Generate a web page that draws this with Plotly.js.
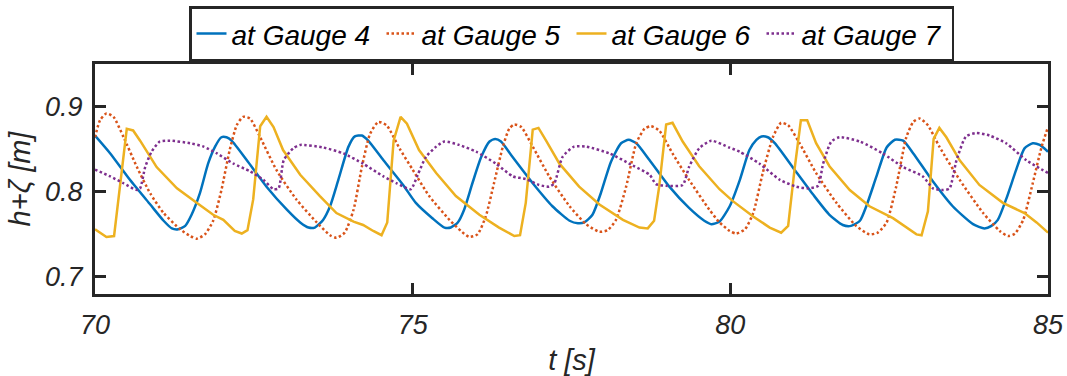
<!DOCTYPE html>
<html>
<head>
<meta charset="utf-8">
<script src="https://cdn.plot.ly/plotly-3.0.1.min.js"></script>
<style>html,body{margin:0;padding:0;background:#fff;}#chart{width:1067px;height:376px;}</style>
</head>
<body>
<div id="chart"></div>
<script>
const seriesNames = ["at Gauge 4", "at Gauge 5", "at Gauge 6", "at Gauge 7"];

const tGauge4 = [70.00,70.24,70.55,70.87,71.08,71.21,71.31,71.42,71.52,71.65,71.78,71.89,71.99,72.07,72.15,72.39,72.70,73.02,73.23,73.36,73.46,73.59,73.70,73.83,73.99,74.09,74.20,74.30,74.54,74.85,75.05,75.31,75.50,75.60,75.71,75.81,75.94,76.08,76.21,76.30,76.39,76.57,76.89,77.20,77.47,77.60,77.70,77.83,77.96,78.12,78.28,78.40,78.52,78.73,79.04,79.35,79.59,79.70,79.83,79.99,80.15,80.30,80.41,80.49,80.59,80.70,80.99,81.30,81.56,81.77,81.90,82.04,82.14,82.30,82.46,82.59,82.72,82.88,83.19,83.50,83.82,84.00,84.11,84.21,84.34,84.50,84.63,84.76,84.87,85.00];
const hGauge4 = [0.866,0.845,0.814,0.785,0.766,0.757,0.756,0.760,0.773,0.798,0.833,0.853,0.864,0.864,0.860,0.837,0.806,0.779,0.764,0.758,0.758,0.767,0.783,0.814,0.853,0.865,0.866,0.860,0.837,0.808,0.787,0.769,0.758,0.758,0.764,0.779,0.810,0.841,0.859,0.862,0.859,0.841,0.810,0.783,0.766,0.763,0.764,0.773,0.798,0.835,0.857,0.861,0.857,0.837,0.806,0.781,0.766,0.762,0.765,0.783,0.814,0.849,0.861,0.865,0.864,0.857,0.828,0.797,0.773,0.761,0.760,0.766,0.783,0.818,0.852,0.861,0.860,0.845,0.812,0.783,0.762,0.757,0.760,0.767,0.791,0.826,0.851,0.857,0.855,0.847];

const tGauge5 = [70.00,70.08,70.18,70.29,70.45,70.66,70.87,71.08,71.34,71.50,71.60,71.73,71.86,71.99,72.12,72.23,72.33,72.44,72.60,72.86,73.17,73.49,73.70,73.80,73.93,74.07,74.20,74.33,74.46,74.59,74.80,75.00,75.26,75.58,75.76,75.89,76.02,76.15,76.28,76.42,76.52,76.60,76.71,76.89,77.15,77.47,77.73,77.94,78.07,78.20,78.36,78.52,78.65,78.75,78.88,79.09,79.35,79.67,79.83,79.99,80.09,80.23,80.36,80.51,80.67,80.80,80.91,81.09,81.35,81.67,81.98,82.19,82.32,82.46,82.61,82.77,82.88,82.98,83.11,83.29,83.61,83.98,84.24,84.37,84.48,84.61,84.76,84.90,85.00];
const hGauge5 = [0.864,0.884,0.892,0.888,0.864,0.829,0.798,0.775,0.756,0.748,0.745,0.750,0.766,0.802,0.849,0.878,0.888,0.886,0.864,0.825,0.791,0.764,0.749,0.746,0.752,0.779,0.829,0.868,0.882,0.878,0.850,0.826,0.795,0.767,0.754,0.747,0.750,0.771,0.810,0.853,0.874,0.879,0.876,0.853,0.818,0.783,0.762,0.753,0.755,0.767,0.806,0.857,0.874,0.877,0.872,0.845,0.814,0.779,0.764,0.754,0.751,0.756,0.775,0.822,0.864,0.881,0.878,0.857,0.822,0.787,0.760,0.750,0.752,0.764,0.806,0.864,0.882,0.886,0.878,0.853,0.814,0.775,0.754,0.748,0.751,0.767,0.810,0.853,0.876];

const tGauge6 = [70.00,70.18,70.30,70.39,70.50,70.60,70.71,70.97,71.29,71.60,71.86,72.02,72.20,72.31,72.40,72.49,72.60,72.70,72.81,72.96,73.23,73.54,73.80,74.07,74.22,74.38,74.51,74.60,74.70,74.81,74.91,75.10,75.37,75.68,76.05,76.36,76.60,76.69,76.78,76.89,76.98,77.10,77.31,77.62,77.94,78.31,78.57,78.70,78.80,78.88,78.99,79.09,79.25,79.51,79.83,80.04,80.36,80.62,80.80,80.91,81.01,81.11,81.21,81.35,81.56,81.88,82.19,82.56,82.82,82.93,83.01,83.11,83.20,83.29,83.40,83.61,83.92,84.29,84.63,84.82,85.00];
const hGauge6 = [0.756,0.747,0.748,0.806,0.874,0.872,0.860,0.829,0.804,0.787,0.773,0.767,0.754,0.751,0.755,0.791,0.877,0.888,0.876,0.849,0.820,0.795,0.775,0.765,0.761,0.754,0.749,0.764,0.860,0.888,0.880,0.849,0.822,0.795,0.773,0.758,0.748,0.749,0.787,0.873,0.875,0.860,0.833,0.806,0.785,0.767,0.758,0.757,0.766,0.806,0.879,0.881,0.859,0.830,0.803,0.789,0.771,0.758,0.752,0.760,0.826,0.884,0.884,0.857,0.830,0.802,0.783,0.769,0.756,0.750,0.749,0.777,0.862,0.875,0.864,0.837,0.808,0.787,0.775,0.764,0.752];

const tGauge7 = [70.00,70.24,70.45,70.66,70.71,70.79,70.89,71.02,71.18,71.50,71.71,71.92,72.18,72.44,72.65,72.81,72.89,72.97,73.12,73.23,73.59,73.91,74.22,74.54,74.75,74.97,75.08,75.21,75.37,75.50,75.73,76.00,76.31,76.58,76.78,76.99,77.15,77.23,77.36,77.54,77.73,78.10,78.46,78.73,78.83,78.99,79.25,79.35,79.51,79.70,79.98,80.15,80.46,80.78,81.04,81.22,81.38,81.46,81.59,81.72,82.04,82.40,82.72,83.03,83.19,83.35,83.45,83.56,83.71,83.87,84.08,84.34,84.66,85.00];
const hGauge7 = [0.826,0.818,0.810,0.802,0.804,0.829,0.847,0.859,0.860,0.857,0.853,0.845,0.833,0.824,0.814,0.803,0.804,0.837,0.851,0.855,0.852,0.845,0.833,0.818,0.810,0.803,0.820,0.841,0.853,0.859,0.855,0.847,0.833,0.818,0.815,0.808,0.806,0.810,0.841,0.853,0.853,0.845,0.831,0.820,0.809,0.807,0.808,0.829,0.851,0.860,0.852,0.847,0.833,0.814,0.806,0.804,0.807,0.833,0.859,0.864,0.859,0.845,0.829,0.818,0.804,0.802,0.804,0.837,0.865,0.869,0.866,0.857,0.837,0.822];

const xTickVals = [70, 75, 80, 85];
const yTickVals = [0.7, 0.8, 0.9];

const axisColor = '#262626';
const fontFam = 'Liberation Sans, Arial, Helvetica, sans-serif';

const traces = [
  {x: tGauge4, y: hGauge4, name: seriesNames[0], mode: 'lines',
   line: {color: '#0072BD', width: 2.5, shape: 'spline', smoothing: 0.6}},
  {x: tGauge5, y: hGauge5, name: seriesNames[1], mode: 'lines',
   line: {color: '#D95319', width: 2.5, dash: '2.5px,2.5px', shape: 'spline', smoothing: 0.6}},
  {x: tGauge6, y: hGauge6, name: seriesNames[2], mode: 'lines',
   line: {color: '#EDB120', width: 2.5}},
  {x: tGauge7, y: hGauge7, name: seriesNames[3], mode: 'lines',
   line: {color: '#7E2F8E', width: 2.5, dash: '2.5px,2.5px', shape: 'spline', smoothing: 0.6}}
];

const layout = {
  width: 1067, height: 376,
  margin: {l: 95, r: 19, t: 64, b: 82, pad: 0},
  paper_bgcolor: '#ffffff', plot_bgcolor: '#ffffff',
  showlegend: true,
  legend: {
    orientation: 'h', x: 0.5, xanchor: 'center',
    yref: 'container', y: 0.983, yanchor: 'top',
    bordercolor: axisColor, borderwidth: 2.5, bgcolor: '#ffffff',
    font: {family: fontFam, size: 28, color: '#000000', style: 'italic'},
    tracegroupgap: 0, itemwidth: 30,
    entrywidth: 145, entrywidthmode: 'pixels'
  },
  xaxis: {
    range: [70, 85], tickvals: xTickVals, ticktext: xTickVals.map(String),
    showgrid: false, zeroline: false,
    showline: true, mirror: 'ticks', linecolor: axisColor, linewidth: 3,
    ticks: 'inside', ticklen: 11, tickwidth: 3, tickcolor: axisColor,
    ticklabelstandoff: 5,
    tickfont: {family: fontFam, size: 27, color: axisColor, style: 'italic'},
    title: {text: 't [s]', standoff: 16, font: {family: fontFam, size: 29, color: axisColor, style: 'italic'}}
  },
  yaxis: {
    range: [0.68, 0.95], tickvals: yTickVals, ticktext: ['0.7', '0.8', '0.9'],
    showgrid: false, zeroline: false,
    showline: true, mirror: 'ticks', linecolor: axisColor, linewidth: 3,
    ticks: 'inside', ticklen: 11, tickwidth: 3, tickcolor: axisColor,
    ticklabelstandoff: 4,
    tickfont: {family: fontFam, size: 27, color: axisColor, style: 'italic'},
    title: {text: 'h+ζ [m]', standoff: 6, font: {family: fontFam, size: 29, color: axisColor, style: 'italic'}}
  }
};

Plotly.newPlot('chart', traces, layout, {displayModeBar: false, staticPlot: true});
</script>
</body>
</html>
